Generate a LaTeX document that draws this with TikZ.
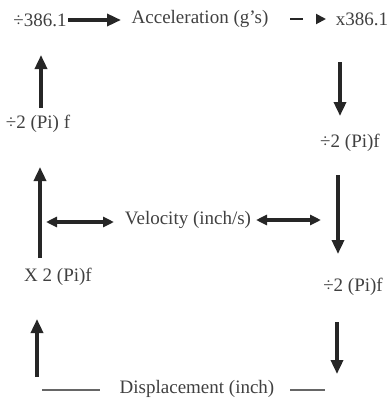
\documentclass[tikz,border=0pt]{standalone}
\usepackage{fontspec}
\setmainfont{Liberation Serif}
\usetikzlibrary{arrows.meta}
\begin{document}
\begin{tikzpicture}[x=1pt,y=-1pt,
  lbl/.style={inner sep=0pt,text=black!75,font=\fontsize{19}{22}\selectfont},
  bigarrow/.style={draw=black!85,line width=3.4pt,-{Triangle[length=14pt,width=12pt]}},
  dblarrow/.style={draw=black!85,line width=3.2pt,{Triangle[length=11pt,width=10pt]}-{Triangle[length=11pt,width=10pt]}},
  thinline/.style={draw=black!60,line width=1.6pt}]
\useasboundingbox (0,0) rectangle (389,402);
% text nodes
\node[lbl] (tl) at (40,20) {÷386.1};
\node[lbl] (acc) at (200,19) {Acceleration (g's)};
\node[lbl] (xr) at (362,19) {x386.1};
\node[lbl] (lpa) at (38,124) {÷2 (Pi) f};
\node[lbl] (rpa) at (350,143) {÷2 (Pi)f};
\node[lbl] (vel) at (188,220) {Velocity (inch/s)};
\node[lbl] (lpb) at (58,277) {X 2 (Pi)f};
\node[lbl] (rpb) at (353,287) {÷2 (Pi)f};
\node[lbl] (disp) at (197,389) {Displacement (inch)};
% connector end points
\coordinate (t1s) at (68,20);  \coordinate (t1e) at (121,20);
\coordinate (t2s) at (290,19); \coordinate (t2e) at (326,19);
\coordinate (l1s) at (41,108); \coordinate (l1e) at (41,55);
\coordinate (l2s) at (40,258); \coordinate (l2e) at (40,167);
\coordinate (l3s) at (37,377); \coordinate (l3e) at (37,319);
\coordinate (r1s) at (340,62); \coordinate (r1e) at (340,116);
\coordinate (r2s) at (338,175); \coordinate (r2e) at (338,254);
\coordinate (r3s) at (337,322); \coordinate (r3e) at (337,374);
\coordinate (v1s) at (46,222); \coordinate (v1e) at (114,222);
\coordinate (v2s) at (256,220); \coordinate (v2e) at (321,220);
\coordinate (d1s) at (42,390); \coordinate (d1e) at (100,390);
\coordinate (d2s) at (290,390); \coordinate (d2e) at (325,390);
% connectors
\draw[bigarrow] (t1s) -- (t1e);
\draw[draw=black!85,line width=2pt,dash pattern=on 13pt off 30pt,-{Triangle[length=10pt,width=10pt]}] (t2s) -- (t2e);
\draw[bigarrow] (l1s) -- (l1e);
\draw[bigarrow] (l2s) -- (l2e);
\draw[bigarrow] (l3s) -- (l3e);
\draw[bigarrow] (r1s) -- (r1e);
\draw[bigarrow] (r2s) -- (r2e);
\draw[bigarrow] (r3s) -- (r3e);
\draw[dblarrow] (v1s) -- (v1e);
\draw[dblarrow] (v2s) -- (v2e);
\draw[thinline] (d1s) -- (d1e);
\draw[thinline] (d2s) -- (d2e);
\end{tikzpicture}
\end{document}
